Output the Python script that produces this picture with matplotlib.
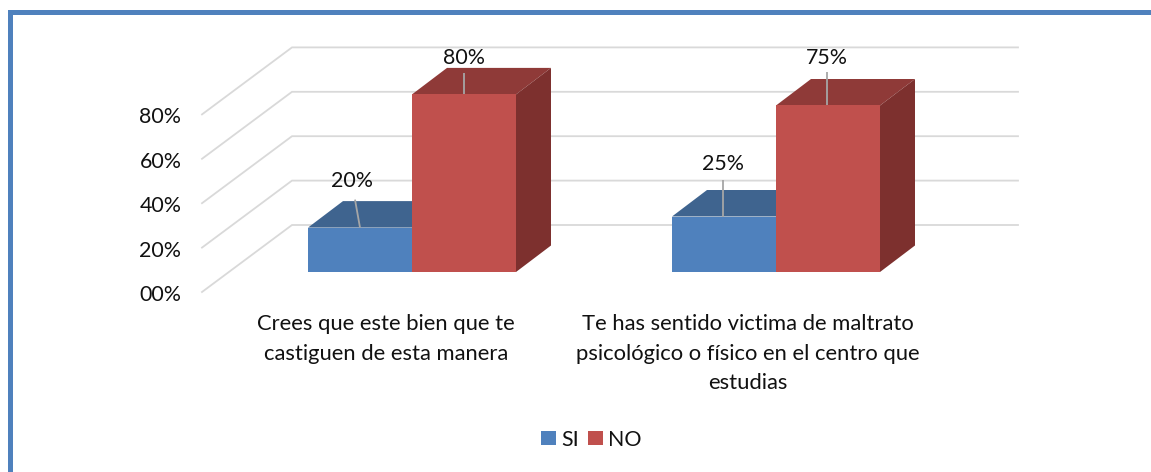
import matplotlib
matplotlib.use('Agg')
import matplotlib.pyplot as plt
from matplotlib.patches import Polygon, Rectangle

# Data
categories = ['Crees que este bien que te\ncastiguen de esta manera',
              'Te has sentido victima de maltrato\npsicológico o físico en el centro que\nestudias']
si_values = [20, 25]
no_values = [80, 75]
y_ticks = [0, 20, 40, 60, 80]
y_tick_labels = ['00%', '20%', '40%', '60%', '80%']

BLUE, BLUE_TOP = '#4F81BD', '#3F648F'
RED, RED_TOP, RED_SIDE = '#C0504D', '#8F3A38', '#7D302E'
GRID = '#D9D9D9'
LEADER = '#A6A6A6'

W, H = 1151, 472
PX_X = 364     # pixels per category
PX_Y = 2.22    # pixels per percent
X0, Y0 = 412, 272   # pixel of first category, zero level
FS = 15.4

plt.rcParams['font.family'] = ['Lato', 'DejaVu Sans']
fig = plt.figure(figsize=(W / 100, H / 100), dpi=100)
ax = fig.add_axes([0, 0, 1, 1])
ax.set_xlim(-X0 / PX_X, (W - X0) / PX_X)
ax.set_ylim(-(H - Y0) / PX_Y, Y0 / PX_Y)
ax.axis('off')


def dx(px):
    return px / PX_X


def dy(px):
    return px / PX_Y


bar_w = dx(104)
depth_x, depth_y = dx(35), dy(26.5)
positions = list(range(len(categories)))

# Walls: gridlines run from the front left corner, back, then to the right
wall_left, wall_back, wall_right = dx(202 - X0), dx(292 - X0), dx(1018 - X0)
wall_front_y, wall_back_y = dy(-20), dy(47)
for t, lab in zip(y_ticks, y_tick_labels):
    ax.plot([wall_left, wall_back, wall_right],
            [t + wall_front_y, t + wall_back_y, t + wall_back_y],
            color=GRID, lw=1.3, zorder=1, solid_joinstyle='miter')
    ax.text(dx(181.5 - X0), t + wall_front_y + dy(-3), lab, ha='right', va='center',
            fontsize=FS, color='#111111')


def draw_bar(x_left, value, face, top, side=None, z=2):
    x_right = x_left + bar_w
    ax.bar(x_left, value, width=bar_w, align='edge', color=face, zorder=z + 0.2)
    ax.add_patch(Polygon([(x_left, value), (x_right, value),
                          (x_right + depth_x, value + depth_y),
                          (x_left + depth_x, value + depth_y)],
                         closed=True, fc=top, ec='none', zorder=z))
    if side:
        ax.add_patch(Polygon([(x_right, 0), (x_right + depth_x, depth_y),
                              (x_right + depth_x, value + depth_y), (x_right, value)],
                             closed=True, fc=side, ec='none', zorder=z))


for i, pos in enumerate(positions):
    draw_bar(pos - bar_w, si_values[i], BLUE, BLUE_TOP, z=2)
    draw_bar(pos, no_values[i], RED, RED_TOP, RED_SIDE, z=3)

# Value labels with leader lines (x offsets in px from the category centre)
leader_bottom = [-52, -53, 52, 51]
leader_top = [-57, -53, 52, 51]
leader_len = [28, 37, 21, 33]
label_gap = [19, 15, 15, 15]
all_values = [si_values[0], si_values[1], no_values[0], no_values[1]]
all_pos = [positions[0], positions[1], positions[0], positions[1]]
for v, p, xb, xt, ln, gap in zip(all_values, all_pos, leader_bottom, leader_top,
                                 leader_len, label_gap):
    ax.plot([p + dx(xb), p + dx(xt)], [v, v + dy(ln)], color=LEADER, lw=1.3,
            zorder=5, solid_capstyle='butt')
    ax.text(p + dx(xt - 3 if xt == -57 else xt), v + dy(ln + gap), f'{v}%',
            ha='center', va='center', fontsize=FS, color='#111111', zorder=6)

# Category labels
cat_x = [dx(386 - X0), 1 + dx(748 - 776)]
for x, lab in zip(cat_x, categories):
    ax.text(x, dy(272 - 314), lab, ha='center', va='top', fontsize=15.8,
            color='#111111', linespacing=1.6)

# Legend
handles = [Rectangle((0, 0), 1, 1, fc=BLUE), Rectangle((0, 0), 1, 1, fc=RED)]
ax.legend(handles, ['SI', 'NO'], ncol=2, frameon=False, fontsize=FS,
          loc='center', bbox_to_anchor=(591.5 / W, 1 - 439.5 / H),
          handlelength=0.68, handleheight=0.68, handletextpad=0.25, columnspacing=0.45,
          labelcolor='#111111')

# Blue frame (open at right and bottom)
fig.add_artist(Rectangle((8 / W, 1 - 15 / H), 1 - 8 / W, 5 / H, fc=BLUE, ec='none',
                         transform=fig.transFigure))
fig.add_artist(Rectangle((8 / W, 0), 5 / W, 1 - 10 / H, fc=BLUE, ec='none',
                         transform=fig.transFigure))

fig.savefig('out.png', dpi=100)
